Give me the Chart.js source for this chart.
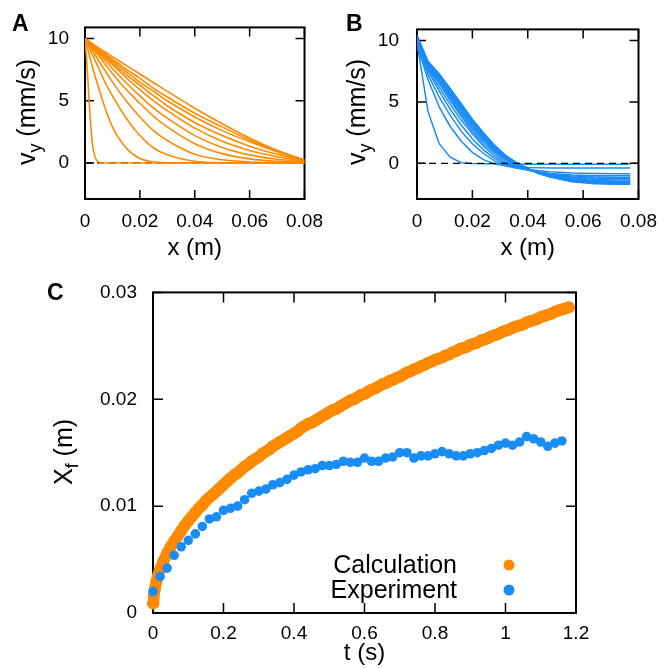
<!DOCTYPE html>
<html>
<head>
<meta charset="utf-8">
<script src="https://cdn.jsdelivr.net/npm/chart.js@4.4.0/dist/chart.umd.min.js"></script>
<style>
  body { margin: 0; background: #fff; width: 668px; height: 668px; position: relative; overflow: hidden; }
  canvas { position: absolute; }
</style>
</head>
<body>
<canvas id="panelA" width="334" height="265" style="left:0;top:0"></canvas>
<canvas id="panelB" width="334" height="265" style="left:334px;top:0"></canvas>
<canvas id="panelC" width="668" height="403" style="left:0;top:265px"></canvas>
<script>
// ---- panel A: calculated velocity profiles ----
const steepX = [0, 0.0005, 0.001, 0.0015, 0.002, 0.0025, 0.003, 0.004, 0.005, 0.006, 0.01, 0.08];
const steepV = [10, 8.6, 6.9, 5.0, 3.3, 2.0, 1.1, 0.3, 0.08, 0.02, 0, 0];

const profileXA = [0, 0.0025, 0.005, 0.0075, 0.01, 0.015, 0.02, 0.025, 0.03, 0.04, 0.05, 0.06, 0.07, 0.08];
const calcProfiles = [
  [10, 7.9, 6.0, 4.3, 2.9, 1.2, 0.35, 0.09, 0.02, 0, 0, 0, 0, 0],
  [10, 8.8, 7.6, 6.4, 5.4, 3.6, 2.2, 1.2, 0.66, 0.14, 0.02, 0, 0, 0],
  [10, 9.1, 8.2, 7.35, 6.5, 5.0, 3.7, 2.6, 1.8, 0.7, 0.25, 0.08, 0.03, 0.02],
  [10, 9.3, 8.6, 7.9, 7.2, 5.9, 4.8, 3.75, 2.9, 1.55, 0.75, 0.33, 0.13, 0.05],
  [10, 9.4, 8.8, 8.2, 7.6, 6.45, 5.4, 4.4, 3.6, 2.2, 1.25, 0.65, 0.3, 0.1],
  [10, 9.45, 8.9, 8.4, 7.9, 6.85, 5.9, 5.0, 4.2, 2.8, 1.75, 1.0, 0.5, 0.15],
  [10, 9.5, 9.0, 8.55, 8.05, 7.1, 6.25, 5.4, 4.6, 3.25, 2.2, 1.35, 0.7, 0.2],
  [10, 9.55, 9.1, 8.65, 8.2, 7.35, 6.5, 5.75, 5.0, 3.7, 2.6, 1.7, 0.9, 0.2],
  [10, 9.6, 9.15, 8.75, 8.35, 7.55, 6.8, 6.0, 5.3, 4.0, 2.9, 1.85, 1.0, 0.2],
  [10, 9.62, 9.25, 8.9, 8.55, 7.85, 7.15, 6.45, 5.75, 4.4, 3.15, 2.0, 1.0, 0.25]
];

// ---- panel B: measured velocity profiles ----
const profileXB = [0, 0.004, 0.008, 0.012, 0.016, 0.02, 0.024, 0.028, 0.032, 0.036, 0.04, 0.044, 0.048, 0.056, 0.064, 0.072, 0.077];
const expProfiles = [
  [9.8, 4.2, 1.6, 0.5, 0.05, -0.02, -0.03, -0.04, -0.05, -0.06, -0.07, -0.08, -0.08, -0.08, -0.08, -0.08, -0.08],
  [9.6, 6.8, 4.6, 3.0, 1.8, 0.9, 0.3, -0.05, -0.2, -0.28, -0.33, -0.36, -0.38, -0.38, -0.38, -0.38, -0.38],
  [9.7, 7.2, 5.4, 3.9, 2.6, 1.6, 0.8, 0.2, -0.2, -0.4, -0.5, -0.6, -0.68, -0.78, -0.83, -0.85, -0.85],
  [9.9, 7.5, 5.9, 4.4, 3.1, 2.0, 1.1, 0.4, -0.1, -0.35, -0.55, -0.7, -0.82, -0.95, -1.0, -1.0, -1.0],
  [10.0, 7.7, 6.2, 4.8, 3.5, 2.4, 1.4, 0.6, 0.0, -0.3, -0.55, -0.72, -0.86, -1.02, -1.1, -1.15, -1.15],
  [10.1, 7.8, 6.5, 5.1, 3.8, 2.6, 1.6, 0.8, 0.15, -0.25, -0.5, -0.72, -0.9, -1.1, -1.2, -1.25, -1.25],
  [10.2, 7.9, 6.7, 5.3, 4.0, 2.8, 1.8, 0.95, 0.3, -0.2, -0.5, -0.74, -0.94, -1.18, -1.3, -1.35, -1.35],
  [10.2, 8.0, 6.8, 5.5, 4.2, 3.0, 1.95, 1.05, 0.35, -0.15, -0.5, -0.78, -1.0, -1.26, -1.4, -1.45, -1.45],
  [10.3, 8.0, 6.9, 5.6, 4.35, 3.15, 2.1, 1.15, 0.45, -0.1, -0.45, -0.78, -1.03, -1.32, -1.45, -1.5, -1.5],
  [10.3, 8.1, 7.0, 5.75, 4.5, 3.3, 2.2, 1.25, 0.5, -0.05, -0.45, -0.8, -1.06, -1.37, -1.5, -1.55, -1.55],
  [10.4, 8.1, 7.1, 5.9, 4.6, 3.4, 2.3, 1.35, 0.55, 0.0, -0.45, -0.8, -1.08, -1.42, -1.55, -1.6, -1.6],
  [10.4, 8.2, 7.2, 6.0, 4.75, 3.5, 2.4, 1.4, 0.6, 0.0, -0.45, -0.82, -1.1, -1.46, -1.6, -1.65, -1.65],
  [10.4, 8.3, 7.3, 6.1, 4.85, 3.6, 2.5, 1.5, 0.65, 0.05, -0.4, -0.82, -1.12, -1.5, -1.65, -1.7, -1.7]
];

// ---- panel C: front position vs time ----
const calcT = [0, 0.002, 0.005, 0.01, 0.015, 0.02, 0.03, 0.04, 0.05, 0.06, 0.07, 0.08, 0.09, 0.10,
  0.11, 0.12, 0.13, 0.14, 0.15, 0.16, 0.17, 0.18, 0.19, 0.20,
  0.21, 0.22, 0.23, 0.24, 0.25, 0.26, 0.27, 0.28, 0.29, 0.30,
  0.31, 0.32, 0.33, 0.34, 0.35, 0.36, 0.37, 0.38, 0.39, 0.40,
  0.41, 0.42, 0.43, 0.44, 0.45, 0.46, 0.47, 0.48, 0.49, 0.50,
  0.51, 0.52, 0.53, 0.54, 0.55, 0.56, 0.57, 0.58, 0.59, 0.60,
  0.61, 0.62, 0.63, 0.64, 0.65, 0.66, 0.67, 0.68, 0.69, 0.70,
  0.71, 0.72, 0.73, 0.74, 0.75, 0.76, 0.77, 0.78, 0.79, 0.80,
  0.81, 0.82, 0.83, 0.84, 0.85, 0.86, 0.87, 0.88, 0.89, 0.90,
  0.91, 0.92, 0.93, 0.94, 0.95, 0.96, 0.97, 0.98, 0.99, 1.00,
  1.01, 1.02, 1.03, 1.04, 1.05, 1.06, 1.07, 1.08, 1.09, 1.10,
  1.11, 1.12, 1.13, 1.14, 1.15, 1.16, 1.17, 1.18];
const calcXf = [0.0009, 0.0016, 0.0022, 0.0030, 0.0036, 0.0041, 0.0049, 0.0056, 0.0062, 0.0067, 0.0072, 0.0077, 0.0082, 0.0086,
  0.0090, 0.0094, 0.0098, 0.0101, 0.0105, 0.0108, 0.0111, 0.0114, 0.0117, 0.0120,
  0.0123, 0.0126, 0.0129, 0.0131, 0.0134, 0.0137, 0.0139, 0.0142, 0.0144, 0.0146,
  0.0149, 0.0151, 0.0153, 0.0156, 0.0158, 0.0160, 0.0162, 0.0164, 0.0166, 0.0168,
  0.0170, 0.0173, 0.0175, 0.0177, 0.0178, 0.0180, 0.0182, 0.0184, 0.0186, 0.0188,
  0.0190, 0.0191, 0.0193, 0.0195, 0.0197, 0.0199, 0.0200, 0.0202, 0.0204, 0.0205,
  0.0207, 0.0209, 0.0210, 0.0212, 0.0214, 0.0215, 0.0217, 0.0218, 0.0220, 0.0221,
  0.0223, 0.0225, 0.0226, 0.0228, 0.0229, 0.0231, 0.0232, 0.0234, 0.0235, 0.0237,
  0.0238, 0.0239, 0.0241, 0.0242, 0.0244, 0.0245, 0.0247, 0.0248, 0.0249, 0.0251,
  0.0252, 0.0253, 0.0255, 0.0256, 0.0257, 0.0259, 0.0260, 0.0261, 0.0263, 0.0264,
  0.0265, 0.0267, 0.0268, 0.0269, 0.0270, 0.0272, 0.0273, 0.0274, 0.0275, 0.0277,
  0.0278, 0.0279, 0.0280, 0.0282, 0.0283, 0.0284, 0.0285, 0.0286];

const expT = [0, 0.02, 0.04, 0.06, 0.08, 0.10, 0.12, 0.14, 0.16, 0.18, 0.20, 0.22, 0.24, 0.26, 0.28,
  0.30, 0.32, 0.34, 0.36, 0.38, 0.40, 0.42, 0.44, 0.46, 0.48, 0.50, 0.52, 0.54, 0.56, 0.58,
  0.60, 0.62, 0.64, 0.66, 0.68, 0.70, 0.72, 0.74, 0.76, 0.78, 0.80, 0.82, 0.84, 0.86, 0.88,
  0.90, 0.92, 0.94, 0.96, 0.98, 1.00, 1.02, 1.04, 1.06, 1.08, 1.10, 1.12, 1.14, 1.16];
const expXf = [0.0020, 0.0034, 0.0042, 0.0054, 0.0062, 0.0068, 0.0074, 0.0081, 0.0088, 0.0090, 0.0096, 0.0098, 0.0100, 0.0106, 0.0112,
  0.0114, 0.0116, 0.0120, 0.0122, 0.0125, 0.0129, 0.0132, 0.0134, 0.0135, 0.0138, 0.0138, 0.0139, 0.0142, 0.0141, 0.0141,
  0.0145, 0.0142, 0.0142, 0.0145, 0.0146, 0.0150, 0.0150, 0.0145, 0.0147, 0.0147, 0.0149, 0.0151, 0.0149, 0.0147, 0.0147,
  0.0149, 0.0150, 0.0152, 0.0154, 0.0157, 0.0159, 0.0157, 0.0160, 0.0165, 0.0163, 0.0160, 0.0156, 0.0159, 0.0161];

// ---- axis ticks ----
const xTicksAB = [0, 0.02, 0.04, 0.06, 0.08];
const yTicksAB = [0, 5, 10];
const xTicksC = [0, 0.2, 0.4, 0.6, 0.8, 1, 1.2];
const yTicksC = [0, 0.01, 0.02, 0.03];

const ORANGE = '#ff8a00';
const BLUE = '#1a8cf5';
const FONT = '"Liberation Sans", Arial, Helvetica, sans-serif';

Chart.defaults.font.family = FONT;
Chart.defaults.color = '#000';

function pts(xs, ys) {
  return xs.map((x, i) => ({ x: x, y: ys[i] }));
}

function fixedTicks(values) {
  return (scale) => { scale.ticks = values.map(v => ({ value: v })); };
}

// rotated axis title with a subscript, e.g. v_y (mm/s)
function rotatedTitle(ctx, cx, cy, main, sub, rest, size) {
  ctx.save();
  ctx.translate(cx, cy);
  ctx.rotate(-Math.PI / 2);
  const big = size + 'px ' + FONT;
  const small = Math.round(size * 0.7) + 'px ' + FONT;
  ctx.font = big;
  const w1 = ctx.measureText(main).width;
  const w3 = ctx.measureText(rest).width;
  ctx.font = small;
  const w2 = ctx.measureText(sub).width;
  let x0 = -(w1 + w2 + w3) / 2;
  ctx.fillStyle = '#000';
  ctx.textAlign = 'left';
  ctx.textBaseline = 'alphabetic';
  ctx.font = big;
  ctx.fillText(main, x0, 0);
  ctx.font = small;
  ctx.fillText(sub, x0 + w1, size * 0.25);
  ctx.font = big;
  ctx.fillText(rest, x0 + w1 + w2, 0);
  ctx.restore();
}

// box around the plot area with inward ticks on all four sides, plus labels
function framePlugin(o) {
  return {
    id: 'frame',
    beforeDatasetsDraw(chart) {
      const { ctx, chartArea: a, scales: { x, y } } = chart;
      ctx.save();
      ctx.strokeStyle = '#000';
      ctx.lineWidth = 1.5;
      ctx.beginPath();
      x.ticks.forEach(t => {
        const px = x.getPixelForValue(t.value);
        ctx.moveTo(px, a.bottom); ctx.lineTo(px, a.bottom - o.tick);
        ctx.moveTo(px, a.top); ctx.lineTo(px, a.top + o.tick);
      });
      y.ticks.forEach(t => {
        const py = y.getPixelForValue(t.value);
        ctx.moveTo(a.left, py); ctx.lineTo(a.left + o.tick, py);
        ctx.moveTo(a.right, py); ctx.lineTo(a.right - o.tick, py);
      });
      ctx.stroke();
      ctx.lineWidth = 2;
      ctx.strokeRect(a.left, a.top, a.right - a.left, a.bottom - a.top);
      ctx.restore();
    },
    afterDraw(chart) {
      const { ctx, chartArea: a } = chart;
      ctx.save();
      ctx.fillStyle = '#000';
      ctx.font = 'bold 23px ' + FONT;
      ctx.textAlign = 'left';
      ctx.fillText(o.letter, o.letterX, o.letterY);
      ctx.font = '24px ' + FONT;
      ctx.textAlign = 'center';
      ctx.fillText(o.xTitle, (a.left + a.right) / 2, o.xTitleY);
      ctx.restore();
      rotatedTitle(ctx, o.yTitleX, o.yTitleY, o.yMain, o.ySub, o.yRest, 25);
      if (o.legend) {
        ctx.save();
        ctx.font = '25px ' + FONT;
        ctx.textAlign = 'right';
        o.legend.forEach((item) => {
          const ds = chart.data.datasets[item.dataset];
          ctx.fillStyle = '#000';
          ctx.fillText(ds.label, item.textX, item.y + 8);
          ctx.fillStyle = ds.pointBackgroundColor;
          ctx.beginPath();
          ctx.arc(item.markX, item.y, 5.5, 0, Math.PI * 2);
          ctx.fill();
        });
        ctx.restore();
      }
    }
  };
}

function profileScales(yWidth, yPad) {
  return {
    x: {
      type: 'linear', min: 0, max: 0.08,
      afterBuildTicks: fixedTicks(xTicksAB),
      afterFit: (s) => { s.height = 66; },
      grid: { display: false, drawTicks: false },
      border: { display: false },
      ticks: { font: { size: 19 }, padding: 11, maxRotation: 0, callback: v => String(v) }
    },
    y: {
      type: 'linear', min: -2.9, max: 10.9,
      afterBuildTicks: fixedTicks(yTicksAB),
      afterFit: (s) => { s.width = yWidth; },
      grid: { display: false, drawTicks: false },
      border: { display: false },
      ticks: { font: { size: 19 }, padding: yPad, callback: v => String(v) }
    }
  };
}

const baseOptions = {
  responsive: false,
  animation: false,
  devicePixelRatio: 1,
  plugins: { legend: { display: false }, tooltip: { enabled: false } }
};

// panel A
const dsA = [{
  data: pts([0, 0.08], [0, 0]),
  borderColor: '#000', borderWidth: 1.2, borderDash: [7, 5], pointRadius: 0, order: 20
}, {
  data: pts(steepX, steepV),
  borderColor: ORANGE, borderWidth: 1.6, pointRadius: 0, cubicInterpolationMode: 'monotone', order: 1
}];
calcProfiles.forEach(v => dsA.push({
  data: pts(profileXA, v),
  borderColor: ORANGE, borderWidth: 1.6, pointRadius: 0, cubicInterpolationMode: 'monotone', order: 1
}));

new Chart(document.getElementById('panelA'), {
  type: 'line',
  data: { datasets: dsA },
  options: Object.assign({}, baseOptions, {
    layout: { padding: { left: 0, top: 22, right: 21, bottom: 0 } },
    scales: profileScales(85, 16)
  }),
  plugins: [framePlugin({
    tick: 9, letter: 'A', letterX: 12, letterY: 31,
    xTitle: 'x (m)', xTitleY: 255,
    yTitleX: 35, yTitleY: 112, yMain: 'v', ySub: 'y', yRest: ' (mm/s)'
  })]
});

// panel B
const dsB = [{
  data: pts([0, 0.08], [0, 0]),
  borderColor: '#000', borderWidth: 1.2, borderDash: [7, 5], pointRadius: 0, order: -1
}];
expProfiles.forEach(v => dsB.push({
  data: pts(profileXB, v),
  borderColor: BLUE, borderWidth: 1.5, pointRadius: 0, tension: 0, order: 1
}));

new Chart(document.getElementById('panelB'), {
  type: 'line',
  data: { datasets: dsB },
  options: Object.assign({}, baseOptions, {
    layout: { padding: { left: 0, top: 22, right: 23, bottom: 0 } },
    scales: profileScales(83, 18)
  }),
  plugins: [framePlugin({
    tick: 9, letter: 'B', letterX: 12, letterY: 31,
    xTitle: 'x (m)', xTitleY: 255,
    yTitleX: 31, yTitleY: 112, yMain: 'v', ySub: 'y', yRest: ' (mm/s)'
  })]
});

// panel C: the dense calculated points merge into a thick band
new Chart(document.getElementById('panelC'), {
  type: 'scatter',
  data: {
    datasets: [{
      label: 'Calculation',
      data: pts(calcT, calcXf),
      showLine: true, borderColor: ORANGE, borderWidth: 11.5,
      borderCapStyle: 'round', borderJoinStyle: 'round',
      pointRadius: 6, pointBackgroundColor: ORANGE, pointBorderWidth: 0,
      clip: false, order: 2
    }, {
      label: 'Experiment',
      data: pts(expT, expXf),
      pointRadius: 4.8, pointBackgroundColor: BLUE, pointBorderWidth: 0,
      clip: false, order: 1
    }]
  },
  options: Object.assign({}, baseOptions, {
    layout: { padding: { left: 0, top: 26, right: 92, bottom: 0 } },
    scales: {
      x: {
        type: 'linear', min: 0, max: 1.2,
        afterBuildTicks: fixedTicks(xTicksC),
        afterFit: (s) => { s.height = 55; },
        grid: { display: false, drawTicks: false },
        border: { display: false },
        ticks: { font: { size: 19 }, padding: 9, maxRotation: 0, callback: v => String(v) }
      },
      y: {
        type: 'linear', min: 0, max: 0.03,
        afterBuildTicks: fixedTicks(yTicksC),
        afterFit: (s) => { s.width = 153; },
        grid: { display: false, drawTicks: false },
        border: { display: false },
        ticks: { font: { size: 19 }, padding: 16, callback: v => String(v) }
      }
    }
  }),
  plugins: [framePlugin({
    tick: 10, letter: 'C', letterX: 47, letterY: 35,
    xTitle: 't (s)', xTitleY: 395,
    yTitleX: 72, yTitleY: 187, yMain: 'X', ySub: 'f', yRest: ' (m)',
    legend: [
      { dataset: 0, textX: 457, markX: 509, y: 300 },
      { dataset: 1, textX: 457, markX: 509, y: 325 }
    ]
  })]
});
</script>
</body>
</html>
